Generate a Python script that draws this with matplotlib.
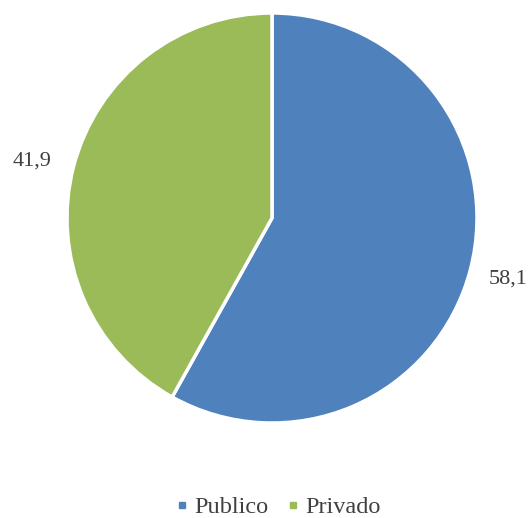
import matplotlib.pyplot as plt
from matplotlib.lines import Line2D

# data
categories = ['Publico', 'Privado']
values = [58.1, 41.9]
value_labels = ['58,1', '41,9']
colors = ['#4F81BD', '#9BBB59']

plt.rcParams['font.family'] = ['Liberation Serif', 'DejaVu Serif']

fig = plt.figure(figsize=(5.29, 5.18), dpi=100)
# pie centre ~ (272, 218) px, radius ~205 px
ax = fig.add_axes([67 / 529, 95 / 518, 410 / 529, 410 / 518])

wedges, texts = ax.pie(values, labels=value_labels, colors=colors,
                       startangle=90, counterclock=False,
                       labeldistance=1.19,
                       wedgeprops=dict(edgecolor='white', linewidth=2.5),
                       textprops=dict(fontsize=16, color='#404040'))
for t in texts:
    t.set_horizontalalignment('center')
    t.set_verticalalignment('center')
# small nudge of the left label to match the original placement
x, y = texts[1].get_position()
texts[1].set_position((x - 0.02, y - 0.02))
ax.set_xlim(-1, 1)
ax.set_ylim(-1, 1)
ax.set_aspect('equal')

# legend with small square markers
handles = [Line2D([0], [0], marker='s', linestyle='none', markersize=5,
                  markerfacecolor=c, markeredgecolor=c) for c in colors]
fig.legend(handles, categories, loc='center', bbox_to_anchor=(0.52, 1 - 507 / 518),
           ncol=2, frameon=False, fontsize=17.5, handletextpad=0.0,
           handlelength=1.0, columnspacing=0.5, labelcolor='#404040',
           borderpad=0.1)

fig.savefig('out.png', dpi=100)
